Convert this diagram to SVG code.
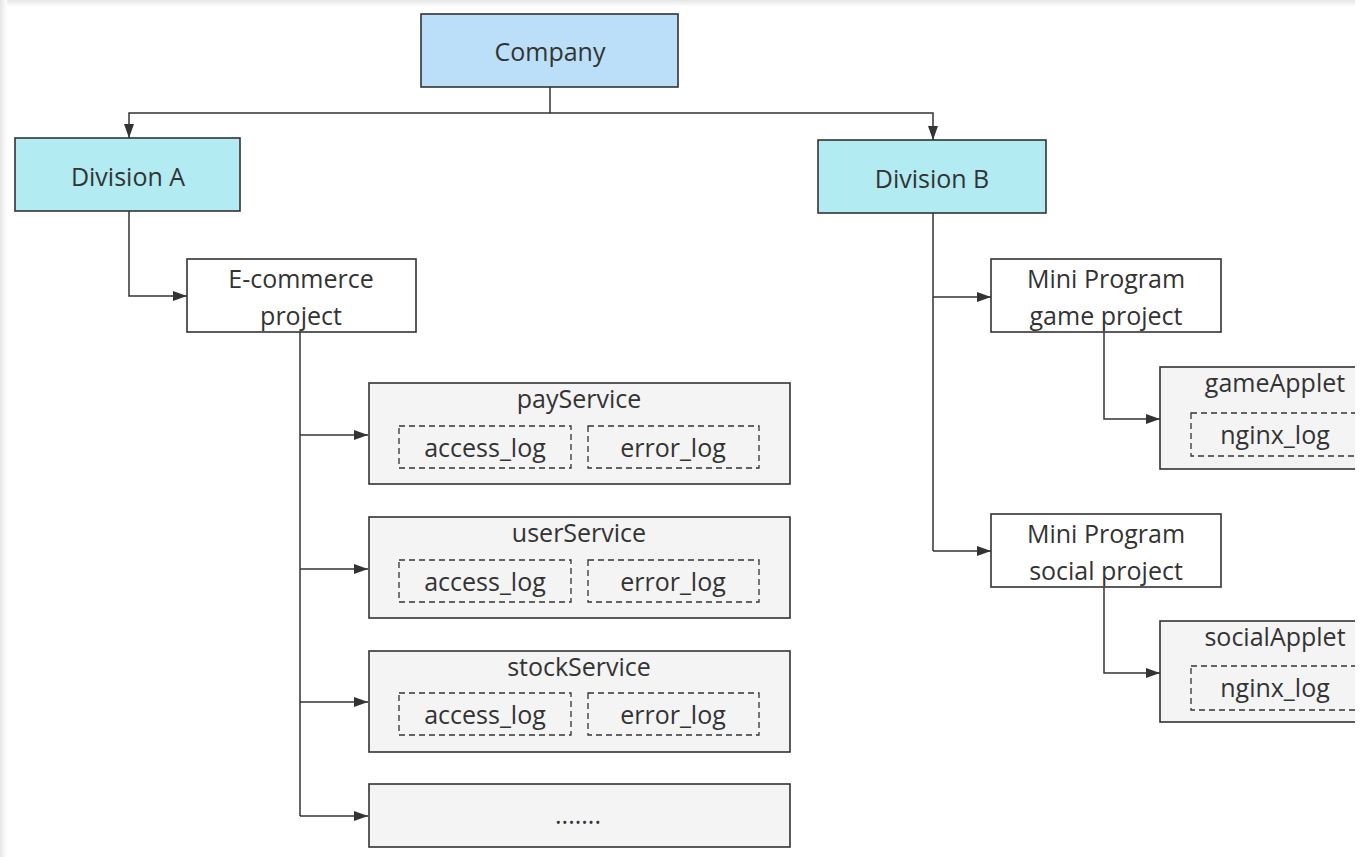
<svg xmlns="http://www.w3.org/2000/svg" width="1366" height="857" viewBox="0 0 1366 857">
<defs>
<linearGradient id="gTop" x1="0" y1="0" x2="0" y2="1"><stop offset="0" stop-color="#e6e6e6"/><stop offset="1" stop-color="#ffffff"/></linearGradient>
<linearGradient id="gLeft" x1="0" y1="0" x2="1" y2="0"><stop offset="0" stop-color="#e6e6e6"/><stop offset="1" stop-color="#ffffff"/></linearGradient>
<marker id="arr" markerUnits="userSpaceOnUse" markerWidth="15" markerHeight="11" refX="14" refY="5" orient="auto"><path d="M0,0 L14,5 L0,10 z" fill="#333"/></marker>
<clipPath id="clip"><rect x="0" y="0" width="1355" height="857"/></clipPath>
</defs>
<style>
text{font-family:"Open Sans","Liberation Sans",sans-serif;font-size:25px;fill:#333;text-anchor:middle}
.box{stroke:#333;stroke-width:1.6}
.top{fill:#bbdff8}
.div{fill:#b2ebf2}
.proj{fill:#ffffff}
.svc{fill:#f4f4f4}
.log{fill:none;stroke:#333;stroke-width:1.3;stroke-dasharray:6,4}
.con{fill:none;stroke:#333;stroke-width:1.5;marker-end:url(#arr)}
.ln{fill:none;stroke:#333;stroke-width:1.5}
</style>
<rect width="1366" height="857" fill="#fff"/>
<rect x="0" y="0" width="1355" height="7" fill="url(#gTop)"/>
<rect x="0" y="0" width="7" height="857" fill="url(#gLeft)"/>
<g clip-path="url(#clip)">
<g id="connectors">
<path class="ln" d="M550,87 V113"/>
<path class="con" d="M550,113 H129 V138"/>
<path class="con" d="M550,113 H933 V140"/>
<path class="con" d="M129,211 V296 H187"/>
<path class="ln" d="M300,332 V816"/>
<path class="con" d="M300,435 H368"/>
<path class="con" d="M300,569 H368"/>
<path class="con" d="M300,702 H368"/>
<path class="con" d="M300,816 H368"/>
<path class="ln" d="M933,213 V551"/>
<path class="con" d="M933,297 H991"/>
<path class="con" d="M933,551 H991"/>
<path class="con" d="M1104,332 V419 H1160"/>
<path class="con" d="M1104,587 V673 H1160"/>
</g>
<g id="company"><rect class="box top" x="421" y="14" width="257" height="73"/><text x="550" y="61">Company</text></g>
<g id="divisionA"><rect class="box div" x="15" y="138" width="225" height="73"/><text x="128" y="186">Division A</text></g>
<g id="divisionB"><rect class="box div" x="818" y="140" width="228" height="73"/><text x="932" y="188">Division B</text></g>
<g id="ecommerce"><rect class="box proj" x="187" y="259" width="229" height="73"/><text x="301" y="288">E-commerce</text><text x="301" y="325">project</text></g>
<g id="payService"><rect class="box svc" x="369" y="383" width="421" height="101"/><text x="579" y="408">payService</text>
<rect class="log" x="399" y="426" width="172" height="42"/><text x="485" y="457">access_log</text>
<rect class="log" x="588" y="426" width="171" height="42"/><text x="673" y="457">error_log</text></g>
<g id="userService"><rect class="box svc" x="369" y="517" width="421" height="101"/><text x="579" y="542">userService</text>
<rect class="log" x="399" y="560" width="172" height="42"/><text x="485" y="591">access_log</text>
<rect class="log" x="588" y="560" width="171" height="42"/><text x="673" y="591">error_log</text></g>
<g id="stockService"><rect class="box svc" x="369" y="651" width="421" height="101"/><text x="579" y="676">stockService</text>
<rect class="log" x="399" y="693" width="172" height="42"/><text x="485" y="724">access_log</text>
<rect class="log" x="588" y="693" width="171" height="42"/><text x="673" y="724">error_log</text></g>
<g id="more"><rect class="box svc" x="369" y="784" width="421" height="63"/><text x="578" y="824">.......</text></g>
<g id="gameProject"><rect class="box proj" x="991" y="259" width="230" height="73"/><text x="1106" y="288">Mini Program</text><text x="1106" y="325">game project</text></g>
<g id="socialProject"><rect class="box proj" x="991" y="514" width="230" height="73"/><text x="1106" y="543">Mini Program</text><text x="1106" y="580">social project</text></g>
<g id="gameApplet"><rect class="box svc" x="1160" y="367" width="230" height="102"/><text x="1275" y="392">gameApplet</text>
<rect class="log" x="1191" y="413" width="190" height="43"/><text x="1275" y="444">nginx_log</text></g>
<g id="socialApplet"><rect class="box svc" x="1160" y="621" width="230" height="101"/><text x="1275" y="646">socialApplet</text>
<rect class="log" x="1191" y="666" width="190" height="44"/><text x="1275" y="697">nginx_log</text></g>
</g>
</svg>
